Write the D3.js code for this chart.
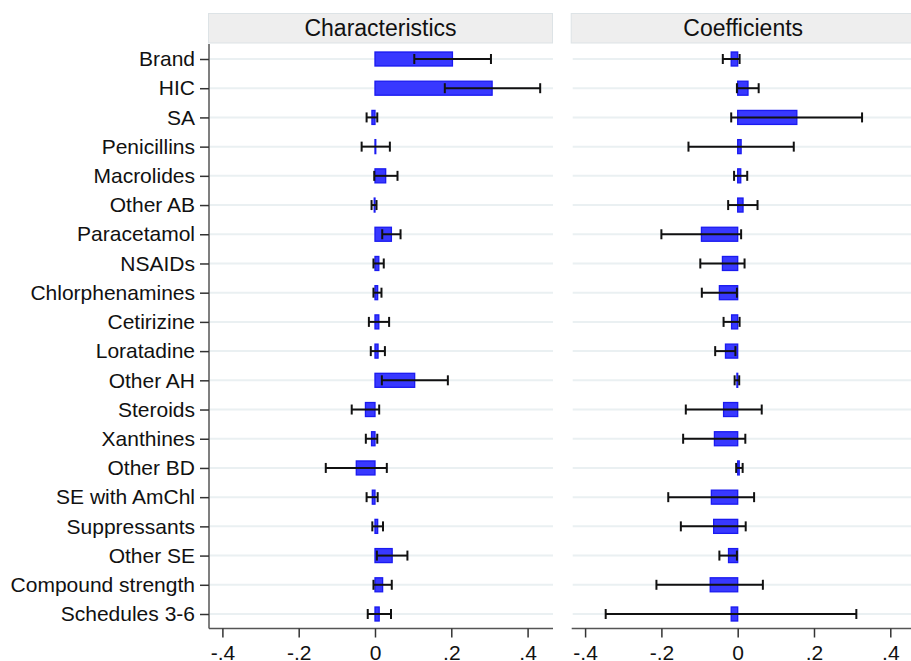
<!DOCTYPE html>
<html><head><meta charset="utf-8">
<script src="https://cdn.jsdelivr.net/npm/d3@7"></script>
<style>
html,body{margin:0;padding:0;background:#fff;}
svg{display:block;font-family:"Liberation Sans",Arial,sans-serif;}
</style></head>
<body>
<svg id="chart" width="911" height="661"></svg>
<script>
const categories = ["Brand","HIC","SA","Penicillins","Macrolides","Other AB","Paracetamol","NSAIDs","Chlorphenamines","Cetirizine","Loratadine","Other AH","Steroids","Xanthines","Other BD","SE with AmChl","Suppressants","Other SE","Compound strength","Schedules 3-6"];

const charValue = [0.203,0.307,-0.008,0.002,0.028,-0.002,0.043,0.010,0.007,0.010,0.008,0.104,-0.025,-0.009,-0.049,-0.007,0.007,0.045,0.020,0.011];
const charLow   = [0.103,0.183,-0.022,-0.035,-0.002,-0.009,0.019,-0.004,-0.004,-0.016,-0.011,0.018,-0.061,-0.024,-0.129,-0.022,-0.007,0.005,-0.004,-0.019];
const charHigh  = [0.304,0.433,0.006,0.039,0.059,0.004,0.067,0.023,0.017,0.037,0.026,0.191,0.011,0.006,0.031,0.007,0.021,0.085,0.044,0.042];

const coefValue = [-0.017,0.027,0.155,0.009,0.008,0.014,-0.095,-0.040,-0.048,-0.016,-0.032,-0.002,-0.037,-0.061,0.004,-0.069,-0.063,-0.024,-0.072,-0.017];
const coefLow   = [-0.039,-0.002,-0.017,-0.129,-0.0095,-0.025,-0.200,-0.098,-0.094,-0.037,-0.059,-0.008,-0.136,-0.143,-0.004,-0.182,-0.149,-0.048,-0.213,-0.346];
const coefHigh  = [0.005,0.055,0.326,0.147,0.025,0.052,0.009,0.018,-0.002,0.005,-0.006,0.004,0.063,0.020,0.013,0.043,0.021,-0.002,0.066,0.311];

const panelTitles = ["Characteristics","Coefficients"];
const tickValues = [-0.4,-0.2,0,0.2,0.4];
const tickLabels = ["-.4","-.2","0",".2",".4"];

const svg = d3.select("#chart");
const plotTop = 44, plotBottom = 628.5;
const panelW = 344;
const domain = [-0.4351, 0.4666];
const panels = [
  {x0:209, title:panelTitles[0], v:charValue, lo:charLow, hi:charHigh, yaxis:true},
  {x0:571.7, title:panelTitles[1], v:coefValue, lo:coefLow, hi:coefHigh, yaxis:false}
];
const y = d3.scalePoint().domain(categories).range([59, 614]);
const FONT = '"Liberation Sans",Arial,sans-serif';

panels.forEach(p => {
  const x = d3.scaleLinear().domain(domain).range([p.x0, p.x0 + panelW]);
  const g = svg.append("g");
  // header
  g.append("rect").attr("x", p.x0 - 0.5).attr("y", 13.5).attr("width", panelW).attr("height", 29.5)
    .attr("fill", "#eeeeee").attr("stroke", "#dde3e6").attr("stroke-width", 1);
  g.append("text").attr("x", p.x0 + panelW/2 - 0.5).attr("y", 36).attr("text-anchor", "middle")
    .attr("font-size", 23).attr("fill", "#111").text(p.title);
  // gridlines
  g.selectAll("line.grid").data(categories).join("line")
    .attr("x1", p.x0 + 1).attr("x2", p.x0 + panelW)
    .attr("y1", d => y(d)).attr("y2", d => y(d))
    .attr("stroke", "#eaf0f2").attr("stroke-width", 2);
  // bars
  g.selectAll("rect.bar").data(categories).join("rect")
    .attr("x", (d,i) => Math.min(x(0), x(p.v[i])))
    .attr("width", (d,i) => Math.max(0.6, Math.abs(x(p.v[i]) - x(0))))
    .attr("y", d => y(d) - 7).attr("height", 14)
    .attr("fill", "#3838ff").attr("stroke", "#1a1af0").attr("stroke-width", 1.3);
  // error bars
  const eb = g.selectAll("g.eb").data(categories).join("g");
  eb.append("line").attr("x1", (d,i) => x(p.lo[i])).attr("x2", (d,i) => x(p.hi[i]))
    .attr("y1", d => y(d)).attr("y2", d => y(d)).attr("stroke", "#111").attr("stroke-width", 2);
  eb.append("line").attr("x1", (d,i) => x(p.lo[i])).attr("x2", (d,i) => x(p.lo[i]))
    .attr("y1", d => y(d) - 5).attr("y2", d => y(d) + 5).attr("stroke", "#111").attr("stroke-width", 2);
  eb.append("line").attr("x1", (d,i) => x(p.hi[i])).attr("x2", (d,i) => x(p.hi[i]))
    .attr("y1", d => y(d) - 5).attr("y2", d => y(d) + 5).attr("stroke", "#111").attr("stroke-width", 2);
  // bottom axis
  const ax = d3.axisBottom(x).tickValues(tickValues).tickFormat((d,i) => tickLabels[i]).tickSize(9).tickSizeOuter(0).tickPadding(8);
  const ag = g.append("g").attr("transform", `translate(0,${plotBottom})`).call(ax);
  ag.select(".domain").attr("stroke", "#555").attr("stroke-width", 1.5)
    .attr("d", `M${p.x0},0H${p.x0 + panelW}`);
  ag.selectAll(".tick line").attr("stroke", "#333").attr("stroke-width", 1.5);
  ag.selectAll(".tick text").attr("font-size", 21).attr("fill", "#111").attr("font-family", FONT);
  if (p.yaxis) {
    const yax = d3.axisLeft(y).tickSize(9).tickPadding(5).tickSizeOuter(0);
    const yg = g.append("g").attr("transform", `translate(${p.x0},0)`).call(yax);
    yg.select(".domain").attr("stroke", "#555").attr("stroke-width", 1.5)
      .attr("d", `M0,${plotTop}V${plotBottom}`);
    yg.selectAll(".tick line").attr("stroke", "#333").attr("stroke-width", 1.5);
    yg.selectAll(".tick text").attr("font-size", 21).attr("fill", "#111").attr("font-family", FONT);
  }
});
</script>
</body></html>
